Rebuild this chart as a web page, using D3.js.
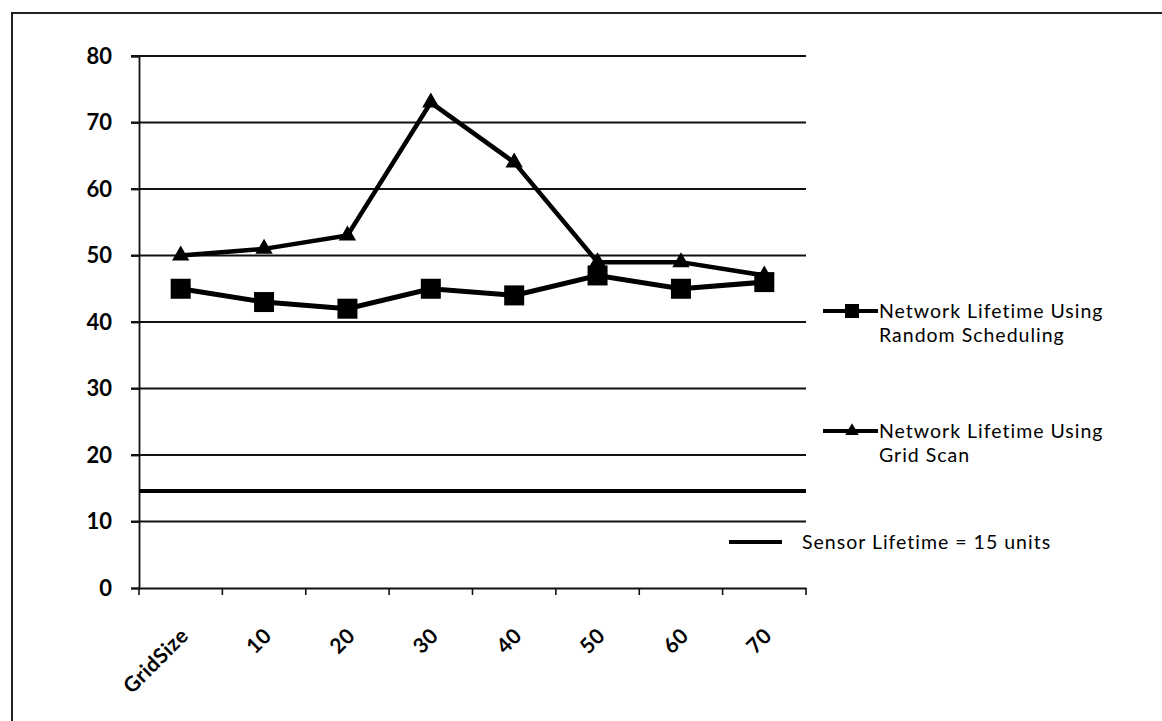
<!DOCTYPE html>
<html>
<head>
<meta charset="utf-8">
<script src="https://cdn.jsdelivr.net/npm/d3@7"></script>
<style>
  body { margin: 0; background: #fff; }
  text { font-family: Lato, "Open Sans", sans-serif; fill: #000; }
</style>
</head>
<body>
<div class="chart"></div>
<script>
// data
const categories = ["GridSize", "10", "20", "30", "40", "50", "60", "70"];
const randomScheduling = [45, 43, 42, 45, 44, 47, 45, 46];
const gridScan = [50, 51, 53, 73, 64, 49, 49, 47];
const sensorLifetime = 14.6;
const yTicks = [0, 10, 20, 30, 40, 50, 60, 70, 80];
const seriesNames = [
  ["Network Lifetime Using", "Random Scheduling"],
  ["Network Lifetime Using", "Grid Scan"],
  ["Sensor Lifetime = 15 units"]
];

const W = 1162, H = 721;
const svg = d3.select(".chart").append("svg")
  .attr("width", W).attr("height", H);

// outer frame (cut off at right and bottom in the scan)
svg.append("rect")
  .attr("x", 12).attr("y", 13)
  .attr("width", W + 20).attr("height", H + 20)
  .attr("fill", "none").attr("stroke", "#222").attr("stroke-width", 2);

// scales
const x = d3.scaleBand().domain(categories).range([139, 806]);
const y = d3.scaleLinear().domain([0, 80]).range([588, 56]);
const cx = d => x(d) + x.bandwidth() / 2;

// gridlines
svg.append("g")
  .selectAll("line")
  .data(yTicks.slice(1))
  .join("line")
  .attr("x1", 131).attr("x2", 806)
  .attr("y1", d => y(d)).attr("y2", d => y(d))
  .attr("stroke", "#111").attr("stroke-width", 1.8);

// y axis
const yAxis = d3.axisLeft(y).tickValues(yTicks).tickSize(8).tickPadding(19);
const gy = svg.append("g").attr("transform", "translate(139,0)").call(yAxis);
gy.select(".domain").attr("stroke", "#111").attr("stroke-width", 1.8);
gy.selectAll(".tick line").attr("stroke", "#111").attr("stroke-width", 1.8);
gy.selectAll(".tick text")
  .style("font-size", "22px").style("font-weight", "bold");

// x axis: ticks between categories
const xAxis = d3.axisBottom(x).tickSize(0).tickFormat("");
const gx = svg.append("g").attr("transform", "translate(0,588)").call(xAxis);
gx.select(".domain").attr("stroke", "#111").attr("stroke-width", 2.2);
gx.selectAll(".tick").remove();
gx.selectAll(".bnd")
  .data(d3.range(categories.length + 1))
  .join("line")
  .attr("x1", i => x.range()[0] + i * x.step())
  .attr("x2", i => x.range()[0] + i * x.step())
  .attr("y1", 0).attr("y2", 7)
  .attr("stroke", "#111").attr("stroke-width", 1.6);

// rotated category labels
svg.append("g")
  .selectAll("text")
  .data(categories)
  .join("text")
  .attr("transform", d => `translate(${cx(d) + 9},${637}) rotate(-45)`)
  .attr("text-anchor", "end")
  .style("font-size", "21px").style("font-weight", "bold")
  .style("letter-spacing", "0.5px")
  .text(d => d);

// sensor lifetime line across the plot
svg.append("line")
  .attr("x1", x.range()[0]).attr("x2", x.range()[1])
  .attr("y1", y(sensorLifetime)).attr("y2", y(sensorLifetime))
  .attr("stroke", "#000").attr("stroke-width", 4);

const line = d3.line().x((d, i) => cx(categories[i])).y(d => y(d));

// grid scan series (triangles)
svg.append("path").datum(gridScan)
  .attr("d", line).attr("fill", "none")
  .attr("stroke", "#000").attr("stroke-width", 4.5);
svg.append("g").selectAll("path")
  .data(gridScan)
  .join("path")
  .attr("transform", (d, i) => `translate(${cx(categories[i])},${y(d)})`)
  .attr("d", d3.symbol(d3.symbolTriangle, 130))
  .attr("fill", "#000");

// random scheduling series (squares)
svg.append("path").datum(randomScheduling)
  .attr("d", line).attr("fill", "none")
  .attr("stroke", "#000").attr("stroke-width", 5);
svg.append("g").selectAll("rect")
  .data(randomScheduling)
  .join("rect")
  .attr("x", (d, i) => cx(categories[i]) - 10)
  .attr("y", d => y(d) - 10)
  .attr("width", 20).attr("height", 20)
  .attr("fill", "#000");

// legend
const legend = svg.append("g");
const entries = [
  { y: 311, x1: 823, x2: 878, tx: 879, marker: "square" },
  { y: 431, x1: 823, x2: 878, tx: 879, marker: "triangle" },
  { y: 542, x1: 729, x2: 782, tx: 802, marker: null }
];
entries.forEach((e, k) => {
  legend.append("line")
    .attr("x1", e.x1).attr("x2", e.x2)
    .attr("y1", e.y).attr("y2", e.y)
    .attr("stroke", "#000").attr("stroke-width", 4);
  if (e.marker === "square") {
    legend.append("rect")
      .attr("x", 845).attr("y", e.y - 7)
      .attr("width", 14).attr("height", 14).attr("fill", "#000");
  } else if (e.marker === "triangle") {
    legend.append("path")
      .attr("transform", `translate(852,${e.y})`)
      .attr("d", d3.symbol(d3.symbolTriangle, 80))
      .attr("fill", "#000");
  }
  seriesNames[k].forEach((s, j) => {
    legend.append("text")
      .attr("x", e.tx).attr("y", e.y + j * 24)
      .attr("dy", "0.35em")
      .style("font-size", "19.5px")
      .style("letter-spacing", "1px")
      .text(s);
  });
});
</script>
</body>
</html>
